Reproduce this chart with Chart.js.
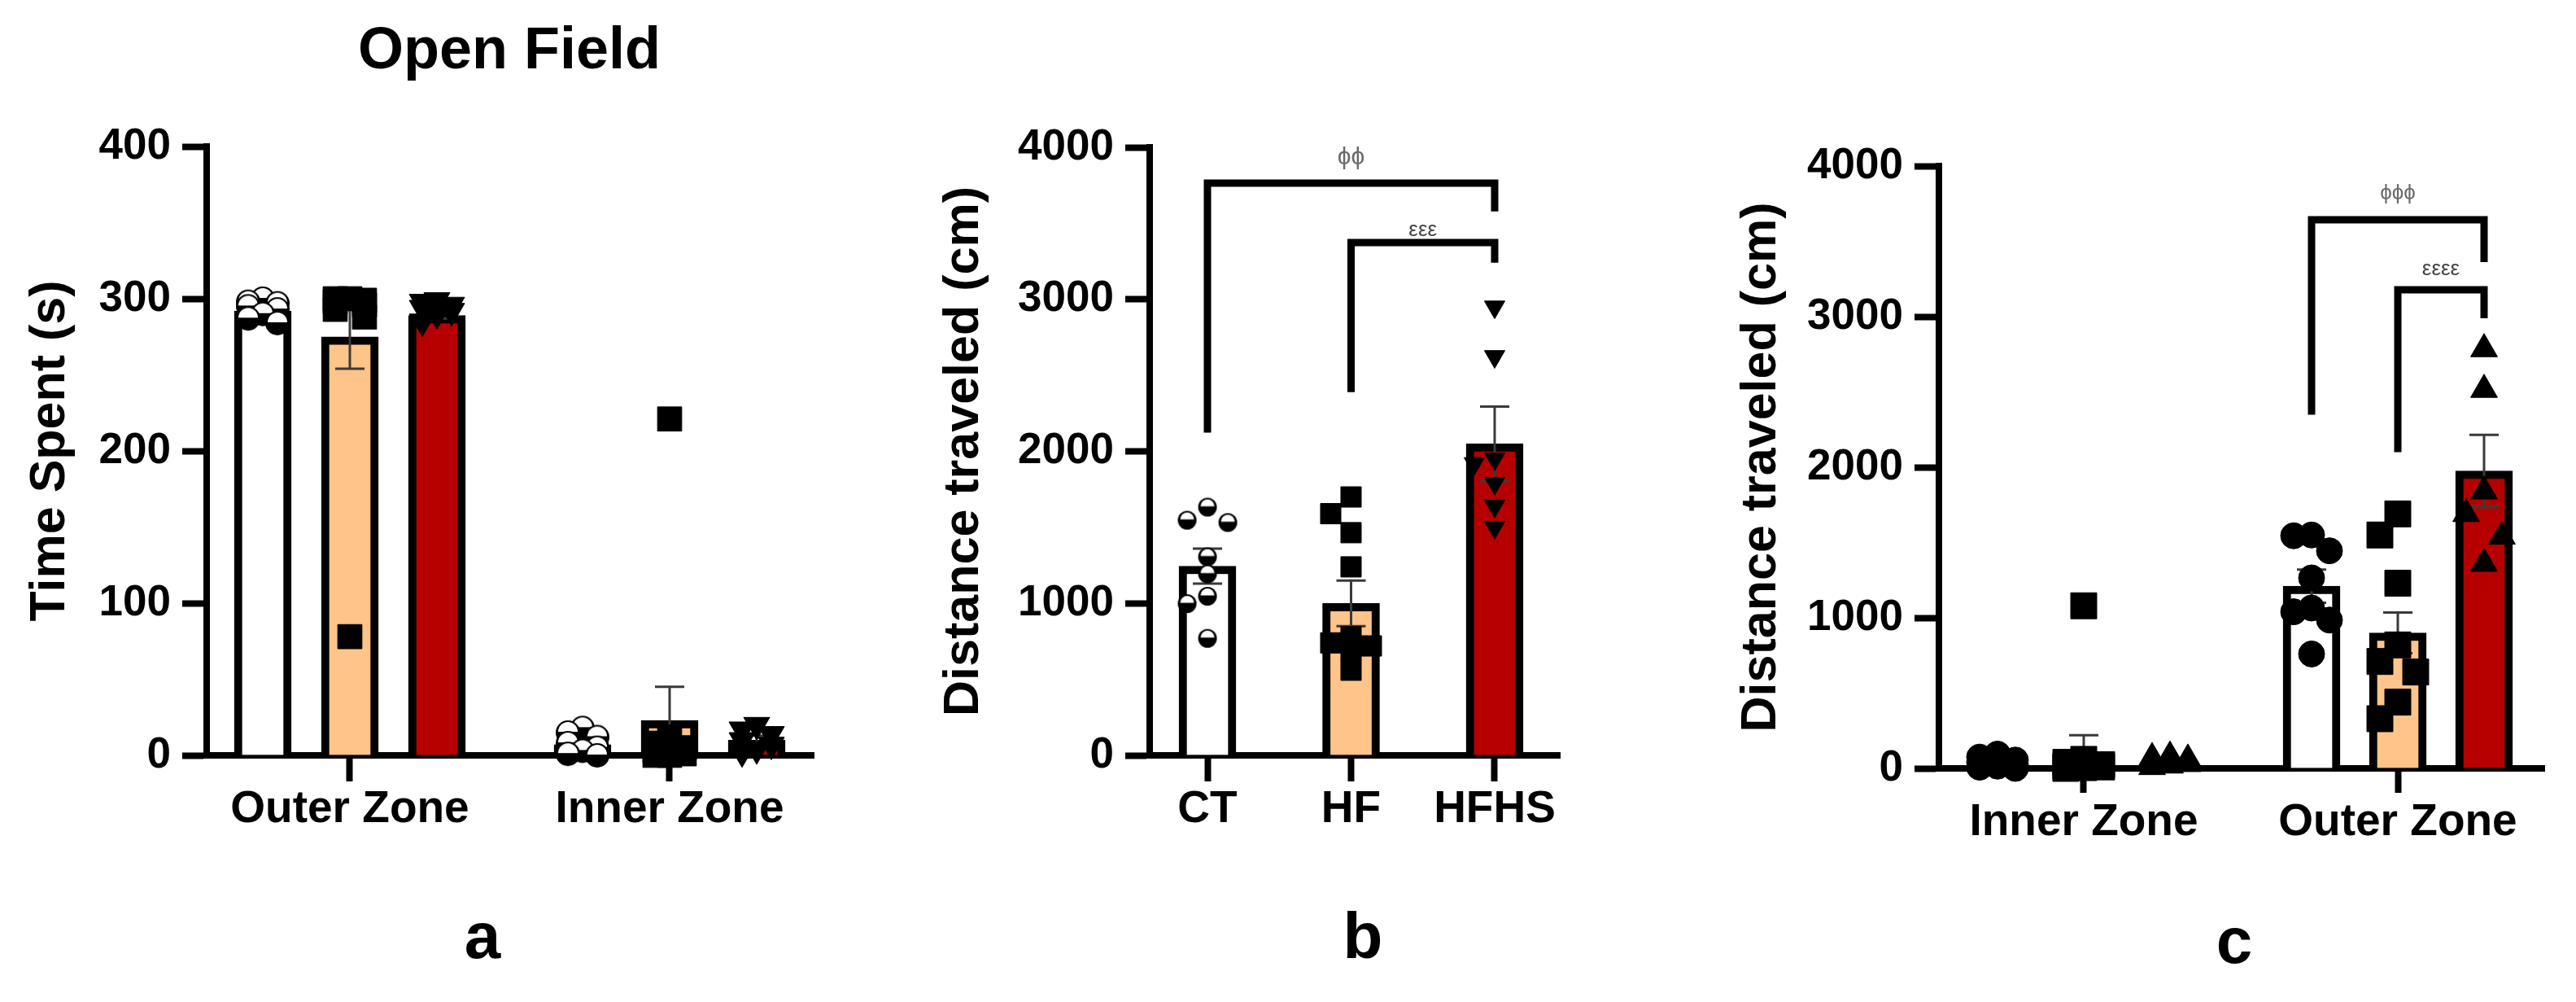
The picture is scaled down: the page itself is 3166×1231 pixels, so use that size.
<!DOCTYPE html>
<html><head><meta charset="utf-8">
<script src="https://cdn.jsdelivr.net/npm/chart.js@4.4.0/dist/chart.umd.min.js"></script>
<style>
html,body{margin:0;padding:0;background:#fff;width:3166px;height:1231px;overflow:hidden;}
canvas{position:absolute;top:0;}
</style></head><body>
<canvas id="cA" width="1100" height="1231" style="left:0px"></canvas>
<canvas id="cB" width="900" height="1231" style="left:1100px"></canvas>
<canvas id="cC" width="1166" height="1231" style="left:2000px"></canvas>
<script>
// ---------------- DATA ----------------
const SERIES = ['CT', 'HF', 'HFHS'];

// Panel a: Time spent (s)
const A_GROUPS = ['Outer Zone', 'Inner Zone'];
const A_CT_MEAN = [292, 7];
const A_HF_MEAN = [275, 23];
const A_HFHS_MEAN = [289, 10];
const A_CT_SEM = [2, 2];
const A_HF_SEM = [21, 22];
const A_HFHS_SEM = [2, 3];
const A_CT_OUTER = [300, 298, 297, 295, 293, 290, 287, 284];
const A_CT_INNER = [18, 15, 12, 8, 5, 3, 1, 0];
const A_HF_OUTER = [300, 300, 299, 298, 296, 293, 288, 78];
const A_HF_INNER = [221, 12, 8, 5, 3, 1, 0, 0];
const A_HFHS_OUTER = [299, 298, 296, 294, 292, 290, 285];
const A_HFHS_INNER = [20, 17, 14, 10, 7, 4, 2];
const A_Y_TICKS = [0, 100, 200, 300, 400];

// Panel b: Distance traveled (cm)
const B_CATS = ['CT', 'HF', 'HFHS'];
const B_MEAN = [1245, 1000, 2050];
const B_SEM = [115, 150, 245];
const B_CT_PTS = [1633, 1547, 1532, 1306, 1194, 1047, 998, 770];
const B_HF_PTS = [1700, 1590, 1465, 1240, 780, 740, 720, 690, 560];
const B_HFHS_PTS = [2950, 2624, 1950, 1920, 1790, 1640, 1500];
const B_Y_TICKS = [0, 1000, 2000, 3000, 4000];
const B_BR_FROM = ['CT', 'HF'];
const B_BR_TO = ['HFHS', 'HFHS'];
const B_BR_TOP = [3765, 3374];
const B_BR_LEFT_END = [2123, 2390];
const B_BR_RIGHT_END = [3578, 3241];
const B_BR_LABEL = ['\u03D5\u03D5', '\u03B5\u03B5\u03B5'];
const B_BR_LABEL_Y = [3930, 3454];

// Panel c: Distance traveled (cm) by zone
const C_GROUPS = ['Inner Zone', 'Outer Zone'];
const C_CT_MEAN = [35, 1210];
const C_HF_MEAN = [100, 900];
const C_HFHS_MEAN = [45, 1975];
const C_CT_SEM = [12, 110];
const C_HF_SEM = [120, 135];
const C_HFHS_SEM = [10, 240];
const C_CT_INNER = [95, 75, 55, 40, 25, 15, 8, 0];
const C_CT_OUTER = [1550, 1545, 1445, 1265, 1065, 1040, 985, 760];
const C_HF_INNER = [1080, 60, 40, 25, 15, 10, 5, 0];
const C_HF_OUTER = [1690, 1550, 1230, 820, 710, 640, 440, 330];
const C_HFHS_INNER = [80, 70, 60, 45, 30, 20, 10];
const C_HFHS_OUTER = [2785, 2515, 1840, 1690, 1540, 1360];
const C_Y_TICKS = [0, 1000, 2000, 3000, 4000];
const C_BR_GROUP = 'Outer Zone';
const C_BR_FROM = ['CT', 'HF'];
const C_BR_TO = ['HFHS', 'HFHS'];
const C_BR_TOP = [3643, 3178];
const C_BR_LEFT_END = [2348, 2100];
const C_BR_RIGHT_END = [3362, 2989];
const C_BR_LABEL = ['\u03D5\u03D5\u03D5', '\u03B5\u03B5\u03B5\u03B5'];
const C_BR_LABEL_Y = [3816, 3314];

// ---------------- STYLE ----------------
const FONT = "'Liberation Sans', Arial, Helvetica, sans-serif";
const H = 1231;
const XAXIS_H = 120;
const COLORS = { CT: '#FFFFFF', HF: '#FFC489', HFHS: '#B60000' };
const ERR_COLOR = '#3a3a3a';
const CAP_W = 36;

const LA = { w: 1100, left: 254, right: 1000, top: 180, bottom: 928, xMin: -0.4478, xMax: 1.4504, yMax: 400, titlePad: 26, xTick: 32, xPad: 2, spread: 0.2723 };
const LB = { w: 900, left: 313, right: 817, top: 181, bottom: 928, xMin: -0.4023, xMax: 2.4533, yMax: 4000, titlePad: 49, xTick: 32, xPad: 2, spread: 0 };
const LC = { w: 1166, left: 383, right: 1127, top: 204, bottom: 944, xMin: -0.4611, xMax: 1.4663, yMax: 4000, titlePad: 129, xTick: 30, xPad: 4, spread: 0.2746 };

Chart.defaults.font.family = FONT;

// half-filled circle marker (white top, black bottom)
function halfCircle(d) {
  const s = Math.ceil(d + 4);
  const c = document.createElement('canvas');
  c.width = s; c.height = s;
  const g = c.getContext('2d');
  const r = d / 2, cx = s / 2, cy = s / 2;
  g.fillStyle = '#000';
  g.beginPath(); g.arc(cx, cy, r, 0, Math.PI * 2); g.fill();
  g.fillStyle = '#fff';
  g.beginPath(); g.arc(cx, cy - 1, r - 3, Math.PI, Math.PI * 2); g.closePath(); g.fill();
  return c;
}

// deterministic "scatter dot plot" spreading so markers don't overlap
function swarm(values, center, L, d, step, maxK) {
  const xPx = (L.right - L.left) / (L.xMax - L.xMin);
  const yPx = (L.bottom - L.top) / L.yMax;
  const idx = values.map((v, i) => i).sort((a, b) => values[b] - values[a]);
  const cands = [0];
  for (let k = 1; k <= maxK; k++) cands.push(-k * step, k * step);
  const placed = [];
  const out = new Array(values.length);
  const lim = d * 0.9;
  idx.forEach(i => {
    const py = values[i] * yPx;
    let best = 0, bestScore = Infinity;
    cands.forEach(ox => {
      let sc = 0;
      placed.forEach(p => {
        const dx = Math.abs(p.x - ox), dy = Math.abs(p.y - py);
        if (dx < lim && dy < lim) sc += (lim - dx) * (lim - dy);
      });
      if (sc < bestScore - 1e-6) { bestScore = sc; best = ox; }
    });
    placed.push({ x: best, y: py });
    out[i] = { x: center + best / xPx, y: values[i] };
  });
  return out;
}

const errorBarPlugin = {
  id: 'errorBars',
  afterDatasetDraw(chart, args) {
    const ds = chart.data.datasets[args.index];
    if (!ds.sem) return;
    const xs = chart.scales.x, ys = chart.scales.y, ctx = chart.ctx;
    ctx.save();
    ctx.strokeStyle = ERR_COLOR; ctx.lineWidth = 3; ctx.lineCap = 'butt';
    ds.data.forEach((p, i) => {
      const x = xs.getPixelForValue(p.x);
      const yHi = ys.getPixelForValue(p.y + ds.sem[i]);
      const yLo = ys.getPixelForValue(Math.max(0, p.y - ds.sem[i]));
      ctx.beginPath();
      ctx.moveTo(x, yHi); ctx.lineTo(x, yLo);
      ctx.moveTo(x - CAP_W / 2, yHi); ctx.lineTo(x + CAP_W / 2, yHi);
      ctx.moveTo(x - CAP_W / 2, yLo); ctx.lineTo(x + CAP_W / 2, yLo);
      ctx.stroke();
    });
    ctx.restore();
  }
};

function bracketPlugin(items) {
  return {
    id: 'brackets',
    afterDatasetsDraw(chart) {
      const xs = chart.scales.x, ys = chart.scales.y, ctx = chart.ctx;
      ctx.save();
      items.forEach(b => {
        const x1 = xs.getPixelForValue(b.x1), x2 = xs.getPixelForValue(b.x2);
        const yt = ys.getPixelForValue(b.top);
        ctx.strokeStyle = '#000'; ctx.lineWidth = 9; ctx.lineJoin = 'miter'; ctx.lineCap = 'butt';
        ctx.beginPath();
        ctx.moveTo(x1, ys.getPixelForValue(b.leftEnd));
        ctx.lineTo(x1, yt);
        ctx.lineTo(x2, yt);
        ctx.lineTo(x2, ys.getPixelForValue(b.rightEnd));
        ctx.stroke();
        ctx.fillStyle = b.color; ctx.font = b.font;
        ctx.textAlign = 'center'; ctx.textBaseline = 'middle';
        ctx.fillText(b.label, (x1 + x2) / 2, ys.getPixelForValue(b.labelY));
      });
      ctx.restore();
    }
  };
}

function textPlugin(items) {
  return {
    id: 'panelText',
    afterDraw(chart) {
      const ctx = chart.ctx;
      ctx.save();
      items.forEach(t => {
        ctx.font = t.font; ctx.fillStyle = '#000';
        ctx.textAlign = 'center'; ctx.textBaseline = 'alphabetic';
        ctx.fillText(t.text, t.x, t.y);
      });
      ctx.restore();
    }
  };
}

function barSet(series, xs, means, sems) {
  return {
    type: 'bar', label: series,
    data: xs.map((x, i) => ({ x: x, y: means[i] })),
    sem: sems,
    backgroundColor: COLORS[series], borderColor: '#000', borderWidth: 10,
    barThickness: 70, grouped: false, order: 3
  };
}

function pointSet(data, style, radius, rotation) {
  return {
    type: 'scatter', data: data,
    pointStyle: style, pointRadius: radius, pointRotation: rotation || 0,
    backgroundColor: '#000', borderColor: '#000', borderWidth: 1,
    clip: false, order: 1, showLine: false
  };
}

function makeChart(id, L, datasets, labels, tickValues, yTicks, yTitle, plugins) {
  return new Chart(document.getElementById(id), {
    type: 'scatter',
    data: { datasets: datasets },
    options: {
      responsive: false, animation: false, events: [],
      layout: { padding: { left: 0, top: L.top, right: L.w - L.right, bottom: H - L.bottom - XAXIS_H } },
      plugins: { legend: { display: false }, tooltip: { enabled: false } },
      scales: {
        x: {
          type: 'linear', min: L.xMin, max: L.xMax, offset: false,
          afterFit: s => { s.height = XAXIS_H; },
          afterBuildTicks: s => { s.ticks = tickValues.map(v => ({ value: v })); },
          ticks: {
            autoSkip: false, maxRotation: 0, minRotation: 0, padding: L.xPad, color: '#000',
            font: { family: FONT, size: 55, weight: 'bold' },
            callback: (v, i) => labels[i]
          },
          grid: { display: true, drawOnChartArea: false, drawTicks: true, tickLength: L.xTick, tickWidth: 8, tickColor: '#000', offset: false },
          border: { display: true, width: 8, color: '#000' }
        },
        y: {
          type: 'linear', min: yTicks[0], max: yTicks[yTicks.length - 1],
          afterFit: s => { s.width = L.left; },
          afterBuildTicks: s => { s.ticks = yTicks.map(v => ({ value: v })); },
          ticks: { padding: 14, color: '#000', font: { family: FONT, size: 53, weight: 'bold' }, callback: v => String(v) },
          grid: { drawOnChartArea: false, drawTicks: true, tickLength: 30, tickWidth: 8, tickColor: '#000' },
          border: { display: true, width: 8, color: '#000' },
          title: { display: true, text: yTitle, color: '#000', font: { family: FONT, size: 61, weight: 'bold' }, padding: { top: L.titlePad, bottom: 0 } }
        }
      }
    },
    plugins: [errorBarPlugin].concat(plugins)
  });
}

// ---------------- Panel a ----------------
(function () {
  const L = LA;
  const gx = A_GROUPS.map((g, i) => i);
  const off = s => (SERIES.indexOf(s) - 1) * L.spread;
  const hc = halfCircle(30);
  const ds = [
    pointSet(swarm(A_CT_OUTER, gx[0] + off('CT'), L, 30, 18, 1).concat(swarm(A_CT_INNER, gx[1] + off('CT'), L, 30, 18, 1)), hc, 15),
    pointSet(swarm(A_HF_OUTER, gx[0] + off('HF'), L, 30, 18, 1).concat(swarm(A_HF_INNER, gx[1] + off('HF'), L, 30, 18, 1)), 'rect', 21),
    pointSet(swarm(A_HFHS_OUTER, gx[0] + off('HFHS'), L, 30, 18, 1).concat(swarm(A_HFHS_INNER, gx[1] + off('HFHS'), L, 30, 18, 1)), 'triangle', 18.5, 180),
    barSet('CT', gx.map(x => x + off('CT')), A_CT_MEAN, A_CT_SEM),
    barSet('HF', gx.map(x => x + off('HF')), A_HF_MEAN, A_HF_SEM),
    barSet('HFHS', gx.map(x => x + off('HFHS')), A_HFHS_MEAN, A_HFHS_SEM)
  ];
  makeChart('cA', L, ds, A_GROUPS, gx, A_Y_TICKS, 'Time Spent (s)', [
    textPlugin([
      { text: 'Open Field', x: 626, y: 84, font: 'bold 72px ' + FONT },
      { text: 'a', x: 593, y: 1177, font: 'bold 80px ' + FONT }
    ])
  ]);
})();

// ---------------- Panel b ----------------
(function () {
  const L = LB;
  const gx = B_CATS.map((c, i) => i);
  const hc = halfCircle(23);
  const ds = [
    pointSet(swarm(B_CT_PTS, gx[0], L, 23, 25, 1), hc, 12),
    pointSet(swarm(B_HF_PTS, gx[1], L, 25, 25, 1), 'rect', 17.7),
    pointSet(swarm(B_HFHS_PTS, gx[2], L, 25, 25, 1), 'triangle', 14.5, 180)
  ];
  B_CATS.forEach((c, i) => ds.push(barSet(c, [gx[i]], [B_MEAN[i]], [B_SEM[i]])));
  const br = B_BR_FROM.map((f, i) => ({
    x1: B_CATS.indexOf(f), x2: B_CATS.indexOf(B_BR_TO[i]),
    top: B_BR_TOP[i], leftEnd: B_BR_LEFT_END[i], rightEnd: B_BR_RIGHT_END[i],
    label: B_BR_LABEL[i], labelY: B_BR_LABEL_Y[i],
    font: (i === 0 ? '30px ' : '26px ') + FONT, color: i === 0 ? '#6a6a6a' : '#444'
  }));
  makeChart('cB', L, ds, B_CATS, gx, B_Y_TICKS, 'Distance traveled (cm)', [
    bracketPlugin(br),
    textPlugin([{ text: 'b', x: 575, y: 1177, font: 'bold 80px ' + FONT }])
  ]);
})();

// ---------------- Panel c ----------------
(function () {
  const L = LC;
  const gx = C_GROUPS.map((g, i) => i);
  const off = s => (SERIES.indexOf(s) - 1) * L.spread;
  const ds = [
    pointSet(swarm(C_CT_INNER, gx[0] + off('CT'), L, 32, 22, 1).concat(swarm(C_CT_OUTER, gx[1] + off('CT'), L, 32, 22, 1)), 'circle', 16),
    pointSet(swarm(C_HF_INNER, gx[0] + off('HF'), L, 32, 22, 1).concat(swarm(C_HF_OUTER, gx[1] + off('HF'), L, 32, 22, 1)), 'rect', 22.6),
    pointSet(swarm(C_HFHS_INNER, gx[0] + off('HFHS'), L, 32, 22, 1).concat(swarm(C_HFHS_OUTER, gx[1] + off('HFHS'), L, 32, 22, 1)), 'triangle', 19),
    barSet('CT', gx.map(x => x + off('CT')), C_CT_MEAN, C_CT_SEM),
    barSet('HF', gx.map(x => x + off('HF')), C_HF_MEAN, C_HF_SEM),
    barSet('HFHS', gx.map(x => x + off('HFHS')), C_HFHS_MEAN, C_HFHS_SEM)
  ];
  const g = C_GROUPS.indexOf(C_BR_GROUP);
  const br = C_BR_FROM.map((f, i) => ({
    x1: g + off(f), x2: g + off(C_BR_TO[i]),
    top: C_BR_TOP[i], leftEnd: C_BR_LEFT_END[i], rightEnd: C_BR_RIGHT_END[i],
    label: C_BR_LABEL[i], labelY: C_BR_LABEL_Y[i],
    font: '26px ' + FONT, color: i === 0 ? '#6a6a6a' : '#444'
  }));
  makeChart('cC', L, ds, C_GROUPS, gx, C_Y_TICKS, 'Distance traveled (cm)', [
    bracketPlugin(br),
    textPlugin([{ text: 'c', x: 746, y: 1183, font: 'bold 80px ' + FONT }])
  ]);
})();
</script>
</body></html>
